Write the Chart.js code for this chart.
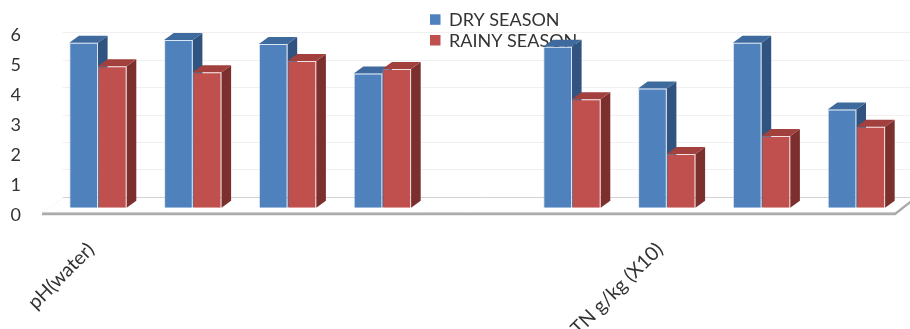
<!DOCTYPE html>
<html>
<head>
<meta charset="utf-8">
<script src="https://cdn.jsdelivr.net/npm/chart.js@4.4.1/dist/chart.umd.min.js"></script>
<style>
  html, body { margin: 0; padding: 0; background: #ffffff; }
  #wrap { width: 910px; height: 329px; }
</style>
</head>
<body>
<div id="wrap"><canvas id="chart" width="910" height="329"></canvas></div>
<script>
// Soil properties by season (only every sixth category name is printed on the axis)
const categories = ['pH(water)', '', '', '', '', '', 'TN g/kg (X10)', '', ''];
const seriesNames = ['DRY SEASON', 'RAINY SEASON'];
const drySeason = [5.74, 5.83, 5.70, 4.72, null, 5.61, 4.22, 5.74, 3.52];
const rainySeason = [4.96, 4.76, 5.13, 4.87, null, 3.86, 2.03, 2.63, 2.94];
const yTicks = [0, 1, 2, 3, 4, 5, 6];

// Shading for the three visible faces of each column
const FRONT = ['#4F81BD', '#C0504D'];
const TOP = ['#3E6A9D', '#A2403D'];
const SIDE = ['#30537F', '#7C302E'];

// Oblique projection of the column depth and of the back wall
const DEPTH_X = 9.6, DEPTH_Y = 7;
const WALL_X = 23.4, WALL_Y = 18.3, WALL_SCALE = 0.913;
const FLOOR_LIFT = 0.243; // columns stand slightly behind the front edge of the floor

Chart.defaults.font.family = 'Lato, "Open Sans", sans-serif';

const scene3d = {
  id: 'scene3d',
  beforeDatasetsDraw(chart) {
    const { ctx, chartArea: a, scales: { y } } = chart;
    const y0 = y.getPixelForValue(0);
    ctx.save();

    // back wall gridlines
    yTicks.forEach(v => {
      const py = Math.round(y0 - WALL_Y + (y.getPixelForValue(v) - y0) * WALL_SCALE) + 0.5;
      ctx.strokeStyle = v === 0 ? '#d2d2d2' : '#f0f0f0';
      ctx.lineWidth = 1;
      ctx.beginPath();
      ctx.moveTo(a.left + 12, py);
      ctx.lineTo(chart.width, py);
      ctx.stroke();
    });

    // floor: faint left edge, front edge and right edge
    const fl = a.left - 8.6, fr = a.right - 8.8, fy = y0 - 1;
    ctx.strokeStyle = '#e6e6e6';
    ctx.setLineDash([1, 2]);
    ctx.beginPath();
    ctx.moveTo(fl, fy);
    ctx.lineTo(fl + WALL_X, fy - WALL_Y);
    ctx.stroke();
    ctx.setLineDash([]);
    ctx.strokeStyle = '#d9d9d9';
    ctx.lineWidth = 1;
    ctx.beginPath();
    ctx.moveTo(fl, fy - 1.6);
    ctx.lineTo(fr, fy - 1.6);
    ctx.stroke();
    ctx.strokeStyle = '#ababab';
    ctx.lineWidth = 2.4;
    ctx.beginPath();
    ctx.moveTo(fl, fy);
    ctx.lineTo(fr, fy);
    ctx.lineTo(fr + WALL_X, fy - WALL_Y);
    ctx.stroke();

    // legend
    ctx.font = '18px Lato, "Open Sans", sans-serif';
    ctx.textBaseline = 'alphabetic';
    ctx.textAlign = 'left';
    seriesNames.forEach((name, i) => {
      const by = 26 + i * 20.7;
      ctx.fillStyle = FRONT[i];
      ctx.fillRect(430, by - 11.7, 10.5, 10.5);
      ctx.fillStyle = '#333333';
      ctx.fillText(name, 449, by);
    });

    // column tops and right-hand sides (front faces are drawn by the bar controller)
    chart.data.datasets.forEach((ds, di) => {
      const meta = chart.getDatasetMeta(di);
      meta.data.forEach((bar, i) => {
        if (ds.data[i] == null) return;
        const { x, y: top, base, width } = bar.getProps(['x', 'y', 'base', 'width'], true);
        const l = x - width / 2, r = x + width / 2;
        ctx.fillStyle = SIDE[di];
        ctx.beginPath();
        ctx.moveTo(r, top);
        ctx.lineTo(r + DEPTH_X, top - DEPTH_Y);
        ctx.lineTo(r + DEPTH_X, base - DEPTH_Y);
        ctx.lineTo(r, base);
        ctx.closePath();
        ctx.fill();
        ctx.fillStyle = TOP[di];
        ctx.beginPath();
        ctx.moveTo(l, top);
        ctx.lineTo(r, top);
        ctx.lineTo(r + DEPTH_X, top - DEPTH_Y);
        ctx.lineTo(l + DEPTH_X, top - DEPTH_Y);
        ctx.closePath();
        ctx.fill();
      });
    });
    ctx.restore();
  }
};

new Chart(document.getElementById('chart'), {
  type: 'bar',
  data: {
    labels: categories,
    datasets: [
      { label: seriesNames[0], data: drySeason, backgroundColor: FRONT[0], borderColor: 'rgba(175,200,230,0.45)', borderWidth: 1, base: FLOOR_LIFT },
      { label: seriesNames[1], data: rainySeason, backgroundColor: FRONT[1], borderColor: 'rgba(225,170,168,0.35)', borderWidth: 1, base: FLOOR_LIFT }
    ]
  },
  options: {
    responsive: false,
    animation: false,
    devicePixelRatio: 1,
    layout: { padding: { left: 10.5, right: 6.2, top: 35, bottom: 0 } },
    datasets: { bar: { categoryPercentage: 0.6055, barPercentage: 1.0 } },
    plugins: { legend: { display: false }, tooltip: { enabled: false } },
    scales: {
      x: {
        grid: { display: false, drawTicks: false },
        border: { display: false },
        ticks: {
          autoSkip: false,
          minRotation: 45,
          maxRotation: 45,
          padding: 23,
          labelOffset: -7,
          color: '#333333',
          font: { size: 19.5 }
        },
        afterFit(scale) { scale.height = 114; }
      },
      y: {
        min: 0,
        max: 6,
        grid: { display: false, drawTicks: false },
        border: { display: false },
        afterBuildTicks(scale) { scale.ticks = yTicks.map(v => ({ value: v })); },
        ticks: {
          crossAlign: 'far',
          color: '#333333',
          font: { size: 18 }
        },
        afterFit(scale) { scale.width = 40.1; }
      }
    }
  },
  plugins: [scene3d]
});
</script>
</body>
</html>
